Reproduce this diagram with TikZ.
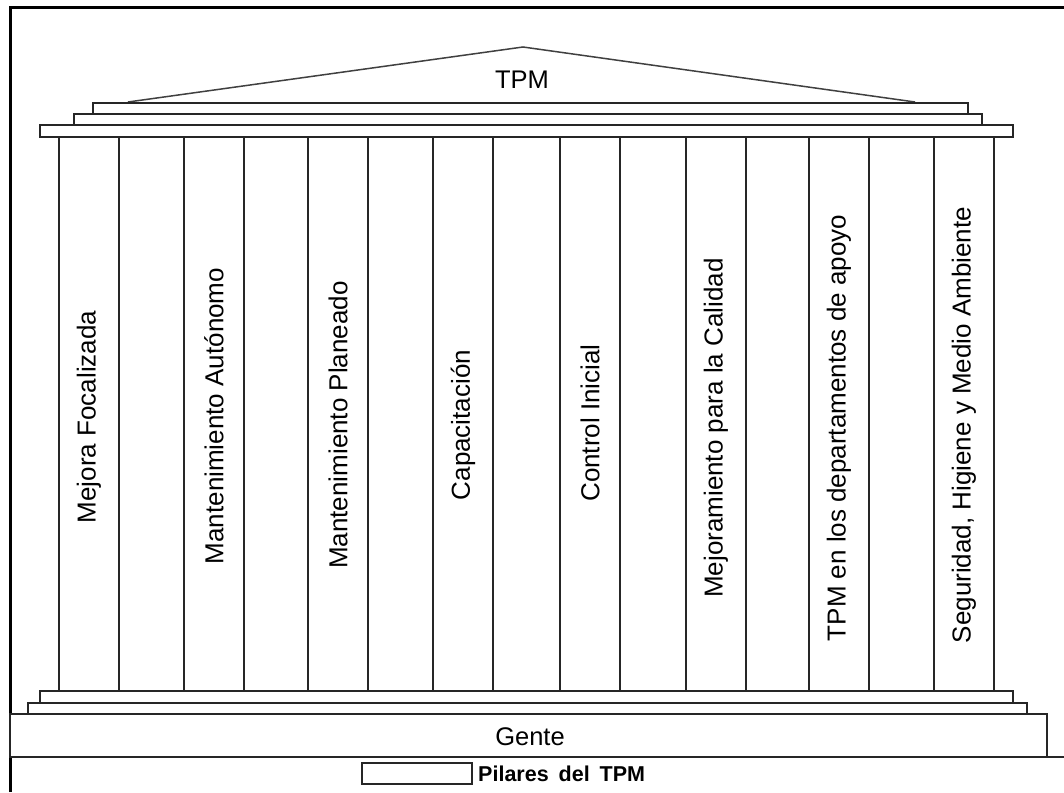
\documentclass[tikz,border=0pt]{standalone}
\usepackage{fontspec}
\setmainfont{Liberation Sans}
\begin{document}
\begin{tikzpicture}[x=1pt,y=-1pt,
  ln/.style={draw=black!85, line width=1.6pt},
  box/.style={ln, fill=white, inner sep=0pt, outer sep=0pt, anchor=north west},
  coltext/.style={rotate=90, inner sep=0pt, font=\fontsize{26}{30}\selectfont},
  bigtext/.style={inner sep=0pt, font=\fontsize{25.5}{30}\selectfont},
  frame/.style={draw=black, line width=3pt}]
\useasboundingbox (0,0) rectangle (1064,792);
\fill[white] (0,0) rectangle (1064,792);
% frame
\coordinate (fTL) at (10,8);
\coordinate (fBL) at (10,792);
\coordinate (fTR) at (1064,8);
\draw[frame] (fBL) -- (fTL) -- (fTR);
% roof
\coordinate (rL) at (128,102);
\coordinate (rP) at (523,47);
\coordinate (rR) at (915,102);
\draw[draw=black!75, line width=1.5pt] (rL) -- (rP) -- (rR);
\node[bigtext] (tpm) at (522,80) {TPM};
% top steps
\node[box, minimum width=875pt, minimum height=11pt] (s1) at (93,103) {};
\node[box, minimum width=908pt, minimum height=11pt] (s2) at (74,114) {};
\node[box, minimum width=973pt, minimum height=12pt] (s3) at (40,125) {};
% bottom steps
\node[box, minimum width=973pt, minimum height=12pt] (b1) at (40,691) {};
\node[box, minimum width=999pt, minimum height=11pt] (b2) at (28,703) {};
\node[box, minimum width=1037pt, minimum height=43pt] (gente) at (10,714) {};
\node[bigtext] (gtext) at (530,737) {Gente};
\coordinate (gR) at (1064,757);
\draw[ln] (gente.south east) -- (gR);
% columns
\foreach \x/\n in {59/1,184/2,308/3,433/4,560/5,686/6,809/7,934/8}{
  \node[box, minimum width=60pt, minimum height=554pt] (c\n) at (\x,137) {};
}
\node[coltext] (t1) at ([yshift=-3pt]c1.center) {Mejora Focalizada};
\node[coltext] (t2) at ([yshift=-2pt]c2.center) {Mantenimiento Autónomo};
\node[coltext] (t3) at ([yshift=-11pt]c3.center) {Mantenimiento Planeado};
\node[coltext] (t4) at ([yshift=-11pt]c4.center) {Capacitación};
\node[coltext] (t5) at ([yshift=-9pt]c5.center) {Control Inicial};
\node[coltext] (t6) at ([yshift=-14pt]c6.center) {Mejoramiento para la Calidad};
\node[coltext] (t7) at ([yshift=-14pt]c7.center) {TPM en los departamentos de apoyo};
\node[coltext] (t8) at ([yshift=-11pt]c8.center) {Seguridad, Higiene y Medio Ambiente};
% legend
\node[box, minimum width=110pt, minimum height=21pt] (leg) at (362,763) {};
\node[anchor=west, inner sep=0pt, font=\fontsize{21.5}{26}\selectfont\bfseries] (legt) at ([xshift=6pt]leg.east) {Pilares\hspace{4pt} del\hspace{4pt} TPM};
\end{tikzpicture}
\end{document}
